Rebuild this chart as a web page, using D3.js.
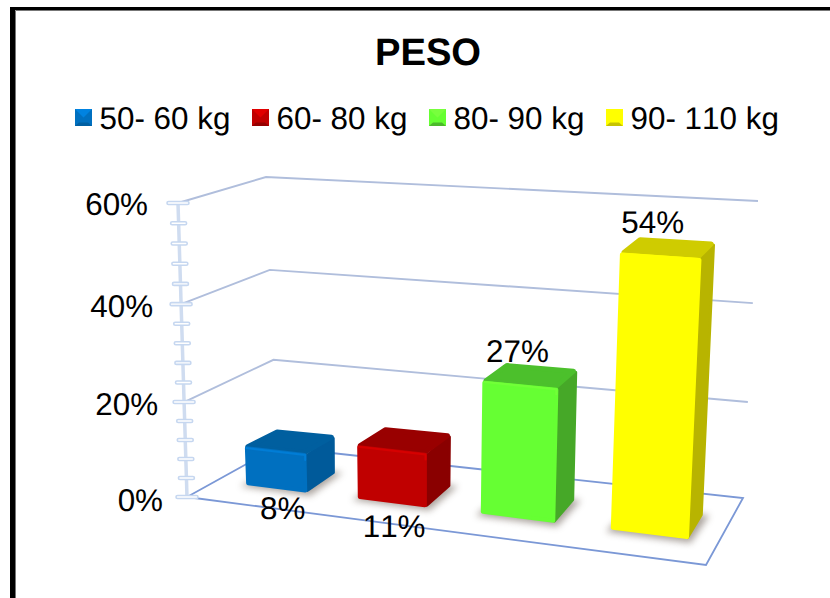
<!DOCTYPE html>
<html><head><meta charset="utf-8">
<script src="https://cdn.jsdelivr.net/npm/d3@7"></script>
<style>html,body{margin:0;padding:0;background:#fff}svg{display:block}text{font-family:"Liberation Sans",Arial,sans-serif;fill:#000;text-rendering:geometricPrecision;font-kerning:none}</style>
</head><body><div id="c"></div>
<script>
const categories=["50- 60 kg","60- 80 kg","80- 90 kg","90- 110 kg"];
const values=[8,11,27,54];
const labels=["8%","11%","27%","54%"];
const axisTicks=[0,20,40,60];
const minorTicks=[4,8,12,16,24,28,32,36,44,48,52,56];
const front=["#0070c0","#c00000","#66ff33","#ffff00"];
const side=["#005a9a","#8a0000","#46a828","#b8b400"];
const topc=["#005f9f","#990000","#4cc02c","#cfcc00"];
const W=830,H=598;
const svg=d3.select("#c").append("svg").attr("width",W).attr("height",H);
const defs=svg.append("defs");
defs.append("filter").attr("id","sh").attr("x","-30%").attr("y","-30%").attr("width","160%").attr("height","160%")
  .append("feGaussianBlur").attr("stdDeviation",3.5);
defs.append("filter").attr("id","soft").append("feGaussianBlur").attr("stdDeviation",0.6);

function bilinear(q){
  const [a,b,c,d]=q;
  return (u,v)=>{
    const f=[a[0]+(b[0]-a[0])*u,a[1]+(b[1]-a[1])*u],k=[d[0]+(c[0]-d[0])*u,d[1]+(c[1]-d[1])*u];
    return [f[0]+(k[0]-f[0])*v,f[1]+(k[1]-f[1])*v];
  };
}
const floorQ=bilinear([[187,497],[706,565],[743,498],[277,447]]);
const roofQ=bilinear([[178,203],[722,241],[758,201],[266,177]]);
const hScale=d3.scaleLinear().domain([0,20,40,60]).range([0,0.323,0.656,1]);
const uWarp=d3.scalePow().exponent(1.12).domain([0,1]).range([0,1]);
function P(u,v,val){
  const w=uWarp(u),a=floorQ(w,v),b=roofQ(w,v),t=hScale(val);
  return [a[0]+(b[0]-a[0])*t,a[1]+(b[1]-a[1])*t];
}
const xBand=d3.scaleBand().domain(categories).range([0.08,0.945]).paddingInner(0.44).paddingOuter(0);
const vFront=0.33,vBack=0.675;
const line=d3.line();

// frame
svg.append("path").attr("d","M15.5,598V10.5H830").attr("fill","none").attr("stroke","#777").attr("stroke-width",1);
svg.append("rect").attr("x",10).attr("y",7).attr("width",5).attr("height",H-7).attr("fill","#000");
svg.append("rect").attr("x",10).attr("y",7).attr("width",W-10).attr("height",3).attr("fill","#000");

// title
svg.append("text").attr("x",428).attr("y",65).attr("text-anchor","middle").attr("font-size",38.2).attr("font-weight","bold").text("PESO");

// legend
const legX=d3.scalePoint().domain(categories).range([75,606]);
categories.forEach((c,i)=>{
  const x=legX(c),y=109,s=17,m=s/2;
  const g=svg.append("g").attr("filter","url(#soft)");
  g.append("rect").attr("x",x).attr("y",y).attr("width",s).attr("height",s).attr("fill",front[i]);
  g.append("path").attr("d",`M${x},${y}L${x+s},${y}L${x+m},${y+m}Z`).attr("fill",d3.color(front[i]).brighter(0.45));
  g.append("path").attr("d",`M${x},${y+s}L${x+s},${y+s}L${x+s-4},${y+s-3.5}L${x+4},${y+s-3.5}Z`).attr("fill",side[i]).attr("opacity",.8);
  svg.append("text").attr("x",x+24.5).attr("y",129).attr("font-size",31.4).text(c);
});

// grid
const gridCol="#b0bedc";
axisTicks.slice(1).forEach(t=>{
  svg.append("path").attr("d",line([P(0,0,t),P(0,1,t),P(1,1,t)])).attr("fill","none").attr("stroke",gridCol).attr("stroke-width",1.9);
});
svg.append("path").attr("d",line([P(0,0,0),P(1,0,0),P(1,1,0),P(0,1,0),P(0,0,0)])).attr("fill","none").attr("stroke","#7b98d6").attr("stroke-width",1.8);

// axis
svg.append("path").attr("d",line([P(0,0,0),P(0,0,60)])).attr("stroke","#cfdcf0").attr("stroke-width",3.5).attr("fill","none");
minorTicks.forEach(t=>{const p=P(0,0,t);
  svg.append("rect").attr("x",p[0]-8).attr("y",p[1]-1.5).attr("width",16).attr("height",3).attr("rx",1.5).attr("fill","#fff").attr("stroke","#c6d7f0").attr("stroke-width",1.6);
});
axisTicks.forEach(t=>{const p=P(0,0,t);
  svg.append("rect").attr("x",p[0]-11).attr("y",p[1]-1.5).attr("width",22).attr("height",3).attr("rx",1.5).attr("fill","#fff").attr("stroke","#c6d7f0").attr("stroke-width",1.6);
  svg.append("text").attr("x",p[0]-(t===0?24:t===20?26:t===40?28:30)).attr("y",p[1]+(t===0?14:t===60?12:13)).attr("text-anchor","end").attr("font-size",31.4).text(t+"%");
});

// bars
categories.forEach((c,i)=>{
  const u0=xBand(c),u1=u0+xBand.bandwidth(),v=values[i];
  const fbl=P(u0,vFront,0),fbr=P(u1,vFront,0),bbr=P(u1,vBack,0),bbl=P(u0,vBack,0);
  const ftl=P(u0,vFront,v),ftr=P(u1,vFront,v),btr=P(u1,vBack,v),btl=P(u0,vBack,v);
  svg.append("path").attr("d",line([[fbl[0]-6,fbl[1]+2],[fbr[0]+3,fbr[1]+4],[bbr[0]+8,bbr[1]-1],[bbl[0],bbl[1]]])+"Z").attr("fill","#8a8078").attr("opacity",.72).attr("filter","url(#sh)");
  const g=svg.append("g").attr("stroke-linejoin","round");
  const inset=(a,b,c,d,k)=>[a,b,c,d].map(p=>{const m=[(a[0]+b[0]+c[0]+d[0])/4,(a[1]+b[1]+c[1]+d[1])/4];
    const dx=m[0]-p[0],dy=m[1]-p[1],l=Math.hypot(dx,dy);return [p[0]+dx/l*k,p[1]+dy/l*k];});
  g.append("path").attr("d",line(inset(ftr,btr,bbr,fbr,1.5))+"Z").attr("fill",side[i]).attr("stroke",side[i]).attr("stroke-width",3);
  g.append("path").attr("d",line(inset(ftl,btl,btr,ftr,2.5))+"Z").attr("fill",topc[i]).attr("stroke",topc[i]).attr("stroke-width",5);
  g.append("path").attr("d",line(inset(ftl,ftr,fbr,fbl,2))+"Z").attr("fill",front[i]).attr("stroke",front[i]).attr("stroke-width",4);
  // lit bevel along the front top edge
  g.append("path").attr("d",line([[ftl[0]+1,ftl[1]+1],[ftr[0]-1,ftr[1]+1],[ftr[0]-1,ftr[1]+6]])).attr("fill","none")
    .attr("stroke",d3.color(front[i]).brighter(0.3)).attr("stroke-width",2).attr("stroke-linecap","round").attr("filter","url(#soft)");
  // data label
  const cx=(ftl[0]+ftr[0])/2;
  const tall=v>20;
  const lx=tall?cx-3-5*(i-2):cx+7-5*i;
  const ly=tall?btl[1]-3-3*(i-2):(fbl[1]+fbr[1])/2+31+4*i;
  svg.append("text").attr("x",lx).attr("y",ly).attr("text-anchor","middle").attr("font-size",31.4).text(labels[i]);
});
</script></body></html>
